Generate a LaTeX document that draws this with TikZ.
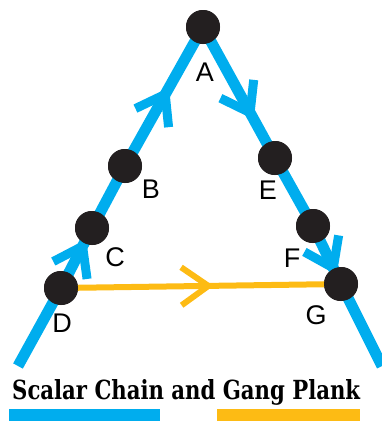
\documentclass[tikz,border=0pt]{standalone}
\usepackage{fontspec}
\setmainfont{Liberation Sans}
\newfontfamily\titlefont{DejaVu Serif}
\usetikzlibrary{decorations.markings}
\definecolor{chainblue}{RGB}{0,173,238}
\definecolor{plankorange}{RGB}{253,187,20}
\definecolor{dotblack}{RGB}{35,31,32}
\tikzset{
  dot/.style={circle,fill=dotblack,minimum size=34pt,inner sep=0pt},
  lbl/.style={font=\fontsize{27}{27}\selectfont,text=black,inner sep=0pt},
  chain/.style={draw=chainblue,line width=11pt},
  plank/.style={draw=plankorange,line width=6pt},
  barb/.style n args={3}{postaction={decorate},decoration={markings,
     mark=at position #1 with {\draw[#2,line width=#3,line cap=butt,line join=miter,miter limit=10]
        (-27pt,19pt) -- (0,0) -- (-27pt,-19pt);}}},
}
\begin{document}
\begin{tikzpicture}[x=1pt,y=-1pt]
\useasboundingbox (0,0) rectangle (382,421);
\coordinate (L) at (18,366);
\coordinate (R) at (382,366);
\node[dot] (A) at (203,27) {};
\node[dot] (B) at (125,166) {};
\node[dot] (C) at (92,228) {};
\node[dot] (D) at (61,288) {};
\node[dot] (E) at (275,158) {};
\node[dot] (F) at (313,226) {};
\node[dot] (G) at (341,284) {};
% connectors
\draw[chain] (L) -- (D.center);
\draw[chain] (D.center) -- (C.center);
\draw[chain] (C.center) -- (B.center);
\draw[chain] (B.center) -- (A.center);
\draw[chain] (A.center) -- (E.center);
\draw[chain] (E.center) -- (F.center);
\draw[chain] (F.center) -- (G.center);
\draw[chain] (G.center) -- (R);
\draw[plank] (D.center) -- (G.center);
\path[barb={0.52}{chainblue}{9pt}] (B) -- (A);
\path[barb={0.9}{chainblue}{9pt}] (D) -- (C);
\path[barb={0.7}{chainblue}{9pt}] (A) -- (E);
\path[barb={0.98}{chainblue}{9pt}] (F) -- (G);
\path[barb={0.53}{plankorange}{6pt}] (D) -- (G);
% dots on top
\foreach \p in {(203,27),(125,166),(92,228),(61,288),(275,158),(313,226),(341,284)}
  \fill[dotblack] \p circle (17pt);
% labels
\node[lbl] (lA) at (205,72) {A};
\node[lbl] (lB) at (151,189) {B};
\node[lbl] (lC) at (115,257) {C};
\node[lbl] (lD) at (62,323) {D};
\node[lbl] (lE) at (268,190) {E};
\node[lbl] (lF) at (292,258) {F};
\node[lbl] (lG) at (316,315) {G};
% legend
\node[anchor=base west,inner sep=0pt] (title) at (12,399)
  {\resizebox{348pt}{20pt}{\titlefont\bfseries Scalar Chain and Gang Plank}};
\fill[chainblue] (9,409) rectangle (160,421);
\fill[plankorange] (217,409) rectangle (360,421);
\end{tikzpicture}
\end{document}
